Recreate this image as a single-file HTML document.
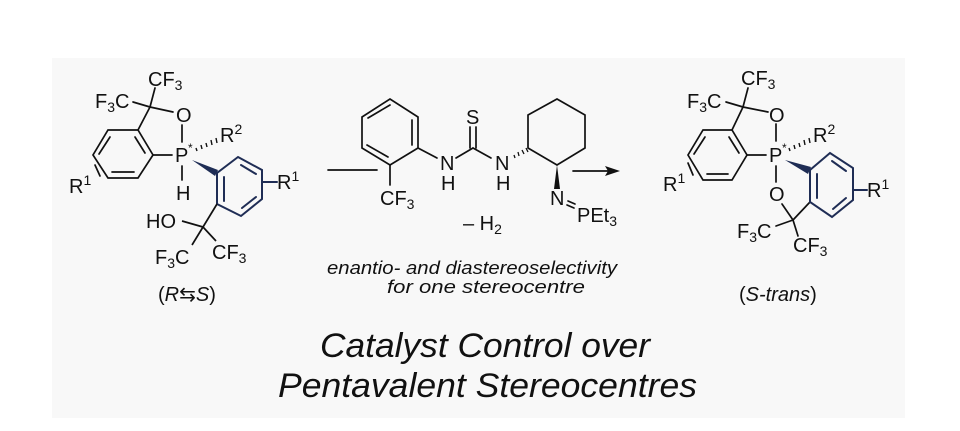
<!DOCTYPE html>
<html><head><meta charset="utf-8"><style>
html,body{margin:0;padding:0;background:#fff;}
svg{display:block;}
text{font-family:"Liberation Sans",sans-serif;fill:#111;}
</style></head><body>
<svg width="960" height="431" viewBox="0 0 960 431" xmlns="http://www.w3.org/2000/svg">
<rect x="0" y="0" width="960" height="431" fill="#fff"/>
<rect x="52" y="58" width="853" height="360" fill="#f8f8f8"/>
<g stroke="#111" stroke-width="1.7" fill="none" stroke-linecap="round">
<!-- LEFT molecule -->
<polygon points="108,130 138,130 153,155 138,178 108,178 93,155"/>
<line x1="99" y1="154" x2="110" y2="137"/><line x1="135" y1="137" x2="145" y2="153"/><line x1="112" y1="172" x2="134" y2="172"/>
<line x1="138" y1="130" x2="150" y2="107"/>
<line x1="150" y1="107" x2="133" y2="102"/>
<line x1="150" y1="107" x2="155" y2="88"/>
<line x1="150" y1="107" x2="173" y2="112"/>
<line x1="182" y1="125" x2="182" y2="142"/>
<line x1="153" y1="155" x2="172" y2="155"/>
<line x1="182" y1="166" x2="182" y2="180"/>
<line x1="95" y1="165" x2="100" y2="176"/>
</g>
<g stroke="#111" stroke-width="1.4">
<line x1="196" y1="148" x2="197" y2="151"/><line x1="201" y1="145" x2="202" y2="149"/><line x1="206" y1="143" x2="207" y2="147"/><line x1="211" y1="140" x2="212" y2="145"/><line x1="216" y1="138" x2="217" y2="143"/>
</g>
<polygon points="192,160 218,170 215,176" fill="#1f2d55"/>
<g stroke="#1f2d55" stroke-width="2" fill="none" stroke-linecap="round">
<polygon points="238,157 262,170 262,199 241,216 217,204 217,173"/>
<line x1="241" y1="165" x2="256" y2="174"/><line x1="224" y1="177" x2="224" y2="201"/><line x1="242" y1="208" x2="256" y2="197"/>
<line x1="262" y1="182" x2="277" y2="182"/>
</g>
<g stroke="#111" stroke-width="1.7">
<line x1="217" y1="204" x2="203" y2="227"/>
<line x1="203" y1="227" x2="182" y2="221"/><line x1="203" y1="227" x2="192" y2="245"/><line x1="203" y1="227" x2="216" y2="241"/>
</g>
<g font-size="20">
<text x="148" y="86">CF<tspan font-size="14" dy="4">3</tspan></text>
<text x="95" y="108">F<tspan font-size="14" dy="4">3</tspan><tspan dy="-4">C</tspan></text>
<text x="176" y="122" fill="#3a1a1a">O</text>
<text x="175" y="162">P</text><text x="188" y="152" font-size="12">*</text>
<text x="220" y="142">R<tspan font-size="14" dy="-8">2</tspan></text>
<text x="176" y="200">H</text>
<text x="69" y="193">R<tspan font-size="14" dy="-8">1</tspan></text>
<text x="277" y="189" fill="#1f2d55">R<tspan font-size="14" dy="-8">1</tspan></text>
<text x="146" y="228" fill="#3a1a1a">HO</text>
<text x="155" y="264">F<tspan font-size="14" dy="4">3</tspan><tspan dy="-4">C</tspan></text>
<text x="212" y="259">CF<tspan font-size="14" dy="4">3</tspan></text>
<text x="158" y="301">(<tspan font-style="italic">R</tspan>⇆<tspan font-style="italic">S</tspan>)</text>
</g>
<!-- RIGHT molecule -->
<g stroke="#111" stroke-width="1.7" fill="none" stroke-linecap="round">
<polygon points="703,130 732,130 747,155 732,180 703,180 688,155"/>
<line x1="694" y1="154" x2="705" y2="137"/><line x1="729" y1="137" x2="739" y2="153"/><line x1="707" y1="174" x2="728" y2="174"/>
<line x1="732" y1="130" x2="743" y2="107"/>
<line x1="743" y1="107" x2="726" y2="102"/>
<line x1="743" y1="107" x2="748" y2="88"/>
<line x1="743" y1="107" x2="768" y2="112"/>
<line x1="776" y1="124" x2="776" y2="141"/>
<line x1="747" y1="155" x2="766" y2="155"/>
<line x1="776" y1="166" x2="776" y2="182"/>
<line x1="782" y1="204" x2="793" y2="220"/>
<line x1="793" y1="220" x2="810" y2="202"/>
<line x1="793" y1="220" x2="776" y2="226"/>
<line x1="793" y1="220" x2="798" y2="236"/>
<line x1="688" y1="163" x2="693" y2="175"/>
</g>
<g stroke="#111" stroke-width="1.4">
<line x1="789" y1="148" x2="790" y2="151"/><line x1="794" y1="145" x2="795" y2="149"/><line x1="799" y1="143" x2="800" y2="147"/><line x1="804" y1="140" x2="805" y2="145"/><line x1="809" y1="138" x2="810" y2="143"/>
</g>
<polygon points="785,160 811,167 808,174" fill="#1f2d55"/>
<g stroke="#1f2d55" stroke-width="2" fill="none" stroke-linecap="round">
<polygon points="810,170 830,153 853,168 853,200 832,217 810,202"/>
<line x1="832" y1="161" x2="846" y2="171"/><line x1="817" y1="174" x2="817" y2="198"/><line x1="833" y1="209" x2="846" y2="198"/>
<line x1="853" y1="190" x2="867" y2="190"/>
</g>
<g font-size="20">
<text x="741" y="85">CF<tspan font-size="14" dy="4">3</tspan></text>
<text x="687" y="108">F<tspan font-size="14" dy="4">3</tspan><tspan dy="-4">C</tspan></text>
<text x="769" y="122" fill="#3a1a1a">O</text>
<text x="769" y="162">P</text><text x="782" y="152" font-size="12">*</text>
<text x="813" y="142">R<tspan font-size="14" dy="-8">2</tspan></text>
<text x="769" y="201" fill="#3a1a1a">O</text>
<text x="663" y="191">R<tspan font-size="14" dy="-8">1</tspan></text>
<text x="867" y="197" fill="#1f2d55">R<tspan font-size="14" dy="-8">1</tspan></text>
<text x="737" y="238">F<tspan font-size="14" dy="4">3</tspan><tspan dy="-4">C</tspan></text>
<text x="793" y="252">CF<tspan font-size="14" dy="4">3</tspan></text>
<text x="739" y="301">(<tspan font-style="italic">S-trans</tspan>)</text>
</g>
<!-- MIDDLE catalyst -->
<g stroke="#111" stroke-width="1.7" fill="none" stroke-linecap="round">
<line x1="328" y1="170" x2="377" y2="170"/>
<line x1="573" y1="171" x2="608" y2="171"/>
<polygon points="362,117 390,99 418,117 418,148 390,165 362,148"/>
<line x1="368" y1="118" x2="390" y2="105"/><line x1="412" y1="120" x2="412" y2="145"/><line x1="367" y1="145" x2="388" y2="157"/>
<line x1="390" y1="165" x2="390" y2="185"/>
<line x1="418" y1="148" x2="437" y2="158"/>
<line x1="456" y1="158" x2="473" y2="148"/>
<line x1="470" y1="148" x2="470" y2="127"/><line x1="476" y1="148" x2="476" y2="127"/>
<line x1="473" y1="148" x2="491" y2="158"/>
<polygon points="528,148 528,115 557,99 585,115 585,148 557,165"/>
<line x1="568" y1="201" x2="575" y2="204"/><line x1="567" y1="205" x2="574" y2="208"/>
</g>
<g stroke="#111" stroke-width="1.3">
<line x1="514" y1="155" x2="515" y2="158"/><line x1="518" y1="152" x2="519" y2="156"/><line x1="522" y1="150" x2="524" y2="154"/><line x1="526" y1="148" x2="528" y2="152"/>
</g>
<polygon points="620,171 605,166 608,171 605,176" fill="#111"/>
<polygon points="557,165 554,189 560,189" fill="#111"/>
<g font-size="20">
<text x="466" y="124">S</text>
<text x="440" y="170">N</text><text x="441" y="190">H</text>
<text x="495" y="170">N</text><text x="496" y="190">H</text>
<text x="380" y="205">CF<tspan font-size="14" dy="4">3</tspan></text>
<text x="550" y="205">N</text>
<text x="577" y="222">PEt<tspan font-size="14" dy="4">3</tspan></text>
<text x="463" y="230">– H<tspan font-size="14" dy="4">2</tspan></text>
</g>
<g font-size="18" font-style="italic">
<text x="327" y="274" textLength="290" lengthAdjust="spacingAndGlyphs">enantio- and diastereoselectivity</text>
<text x="387" y="293" textLength="198" lengthAdjust="spacingAndGlyphs">for one stereocentre</text>
</g>
<g font-size="34" font-style="italic">
<text x="320" y="357" textLength="330" lengthAdjust="spacingAndGlyphs">Catalyst Control over</text>
<text x="278" y="397" textLength="419" lengthAdjust="spacingAndGlyphs">Pentavalent Stereocentres</text>
</g>
</svg>
</body></html>
